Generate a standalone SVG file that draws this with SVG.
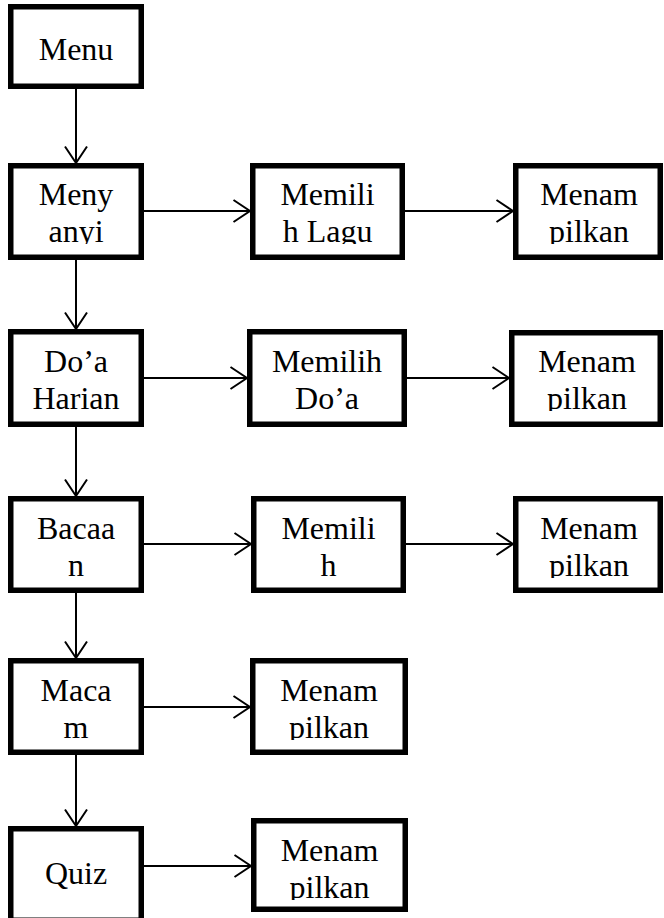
<svg xmlns="http://www.w3.org/2000/svg" width="664" height="918" viewBox="0 0 664 918">
<style>
.box{fill:#fff;stroke:#000;stroke-width:5.5}
.t{font-family:"Liberation Serif","Times New Roman",serif;font-size:32px;fill:#000;text-anchor:middle}
.c{stroke:#000;stroke-width:2;fill:none;marker-end:url(#ah)}
</style>
<defs>
<marker id="ah" markerUnits="userSpaceOnUse" markerWidth="20" markerHeight="24" refX="17.5" refY="11" orient="auto" overflow="visible">
<path d="M1,0 L17.5,11 L1,22" fill="none" stroke="#000" stroke-width="2"/>
</marker>
<clipPath id="c2a"><rect x="8" y="163" width="136" height="81"/></clipPath>
<clipPath id="c2b"><rect x="250" y="163" width="155" height="81"/></clipPath>
<clipPath id="c2c"><rect x="513" y="163" width="150" height="81"/></clipPath>
<clipPath id="c3c"><rect x="509" y="330" width="154" height="81"/></clipPath>
<clipPath id="c4c"><rect x="513" y="496" width="150" height="82"/></clipPath>
<clipPath id="c5b"><rect x="250" y="658" width="158" height="82"/></clipPath>
<clipPath id="c6b"><rect x="251" y="818" width="157" height="82"/></clipPath>
</defs>
<g id="connectors">
<line class="c" x1="76" y1="89" x2="76" y2="163"/>
<line class="c" x1="76" y1="260" x2="76" y2="329"/>
<line class="c" x1="76" y1="427" x2="76" y2="496"/>
<line class="c" x1="76" y1="593" x2="76" y2="658"/>
<line class="c" x1="76" y1="755" x2="76" y2="826"/>
<line class="c" x1="144" y1="211" x2="250" y2="211"/>
<line class="c" x1="405" y1="211" x2="513" y2="211"/>
<line class="c" x1="144" y1="378" x2="247" y2="378"/>
<line class="c" x1="407" y1="378" x2="509" y2="378"/>
<line class="c" x1="144" y1="544" x2="251" y2="544"/>
<line class="c" x1="406" y1="544" x2="513" y2="544"/>
<line class="c" x1="144" y1="707" x2="250" y2="707"/>
<line class="c" x1="144" y1="866" x2="251" y2="866"/>
</g>
<g id="menu">
<rect class="box" x="10.75" y="6.75" width="130.5" height="79.5"/>
<text class="t" x="76" y="60">Menu</text>
</g>
<g id="menyanyi">
<rect class="box" x="10.75" y="165.75" width="130.5" height="91.5"/>
<g clip-path="url(#c2a)"><text class="t" x="76" y="205">Meny</text><text class="t" x="76" y="242">anyi</text></g>
</g>
<g id="memilih-lagu">
<rect class="box" x="252.75" y="165.75" width="149.5" height="91.5"/>
<g clip-path="url(#c2b)"><text class="t" x="327.5" y="205">Memili</text><text class="t" x="327.5" y="242">h Lagu</text></g>
</g>
<g id="menampilkan-1">
<rect class="box" x="515.75" y="165.75" width="144.5" height="91.5"/>
<g clip-path="url(#c2c)"><text class="t" x="589" y="205">Menam</text><text class="t" x="589" y="242">pilkan</text></g>
</g>
<g id="doa-harian">
<rect class="box" x="10.75" y="331.75" width="130.5" height="92.5"/>
<text class="t" x="76" y="372">Do’a</text><text class="t" x="76" y="409">Harian</text>
</g>
<g id="memilih-doa">
<rect class="box" x="249.75" y="331.75" width="154.5" height="92.5"/>
<text class="t" x="327" y="372">Memilih</text><text class="t" x="327" y="409">Do’a</text>
</g>
<g id="menampilkan-2">
<rect class="box" x="511.75" y="332.75" width="148.5" height="91.5"/>
<g clip-path="url(#c3c)"><text class="t" x="587" y="372">Menam</text><text class="t" x="587" y="409">pilkan</text></g>
</g>
<g id="bacaan">
<rect class="box" x="10.75" y="498.75" width="130.5" height="91.5"/>
<text class="t" x="76" y="539">Bacaa</text><text class="t" x="76" y="576">n</text>
</g>
<g id="memilih-3">
<rect class="box" x="253.75" y="498.75" width="149.5" height="91.5"/>
<text class="t" x="328.5" y="539">Memili</text><text class="t" x="328.5" y="576">h</text>
</g>
<g id="menampilkan-3">
<rect class="box" x="515.75" y="498.75" width="144.5" height="91.5"/>
<g clip-path="url(#c4c)"><text class="t" x="589" y="539">Menam</text><text class="t" x="589" y="576">pilkan</text></g>
</g>
<g id="macam">
<rect class="box" x="10.75" y="660.75" width="130.5" height="91.5"/>
<text class="t" x="76" y="701">Maca</text><text class="t" x="76" y="738">m</text>
</g>
<g id="menampilkan-4">
<rect class="box" x="252.75" y="660.75" width="152.5" height="91.5"/>
<g clip-path="url(#c5b)"><text class="t" x="329" y="701">Menam</text><text class="t" x="329" y="738">pilkan</text></g>
</g>
<g id="quiz">
<rect class="box" x="10.75" y="828.75" width="130.5" height="91.5"/>
<text class="t" x="76" y="884">Quiz</text>
</g>
<g id="menampilkan-5">
<rect class="box" x="253.75" y="820.75" width="151.5" height="88.5"/>
<g clip-path="url(#c6b)"><text class="t" x="329.5" y="861">Menam</text><text class="t" x="329.5" y="898">pilkan</text></g>
</g>
</svg>
